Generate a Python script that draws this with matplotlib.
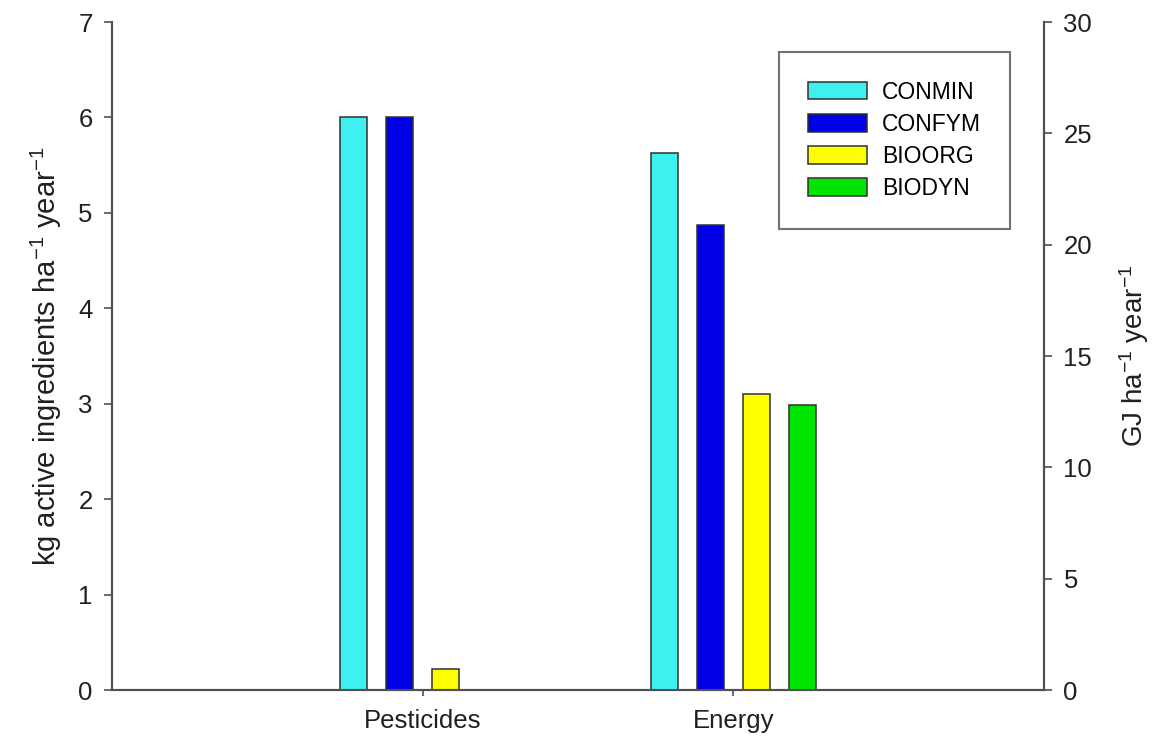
import numpy as np
import matplotlib.pyplot as plt

plt.rcParams['font.family'] = ['Liberation Sans', 'DejaVu Sans']
plt.rcParams['mathtext.fontset'] = 'custom'
plt.rcParams['mathtext.rm'] = 'Liberation Sans'
plt.rcParams['mathtext.it'] = 'Liberation Sans'

categories = ['Pesticides', 'Energy']
systems = ['CONMIN', 'CONFYM', 'BIOORG', 'BIODYN']
colors = ['#3ff0f0', '#0000e6', '#ffff00', '#00e600']

# kg active ingredients per ha and year (left axis)
pesticides = [6.0, 6.0, 0.22, 0.0]
# GJ per ha and year (right axis)
energy = [24.1, 20.9, 13.3, 12.8]

fig = plt.figure(figsize=(11.59, 7.41), dpi=100)
ax = fig.add_axes([0.0966, 0.0688, 0.8042, 0.9015])
ax2 = ax.twinx()

x = np.arange(1, len(categories) + 1)
width = 0.087
offsets = np.array([-1.5, -0.5, 0.5, 1.5]) * 0.148

edge = '#303030'
for i, name in enumerate(systems):
    if pesticides[i] > 0:
        ax.bar(x[0] + offsets[i], pesticides[i], width, color=colors[i],
               edgecolor=edge, linewidth=1.1, label=name)
    ax2.bar(x[1] + offsets[i], energy[i], width, color=colors[i],
            edgecolor=edge, linewidth=1.1, label=name)

ax.set_xlim(0, 3)
ax.set_ylim(0, 7)
ax2.set_ylim(0, 30)
ax.set_xticks(x)
ax.set_xticklabels(categories)
ax.set_yticks(range(0, 8))
ax2.set_yticks(range(0, 31, 5))

axis_col = '#505050'
for a in (ax, ax2):
    a.spines['top'].set_visible(False)
    for s in a.spines.values():
        s.set_color(axis_col)
        s.set_linewidth(1.5)
    a.tick_params(direction='out', length=6, width=1.2, color=axis_col,
                  labelsize=18.5, labelcolor='#202020', pad=8)
ax.tick_params(axis='x', length=4, pad=10)

ax.set_ylabel('kg active ingredients ha$^{-1}$ year$^{-1}$', fontsize=21,
              color='#202020', labelpad=10)
ax2.set_ylabel('GJ ha$^{-1}$ year$^{-1}$', fontsize=20, color='#202020',
               labelpad=18)

handles, labels = ax2.get_legend_handles_labels()
leg = fig.legend(handles, labels, loc='upper right',
                 bbox_to_anchor=(0.8714, 0.9298), fontsize=16.5,
                 handlelength=2.6, handleheight=0.8, labelspacing=0.4,
                 borderpad=1.25, handletextpad=0.65, fancybox=False,
                 borderaxespad=0)
leg.get_frame().set_edgecolor('#505050')
leg.get_frame().set_linewidth(1.5)

fig.savefig('out.png', dpi=100)
